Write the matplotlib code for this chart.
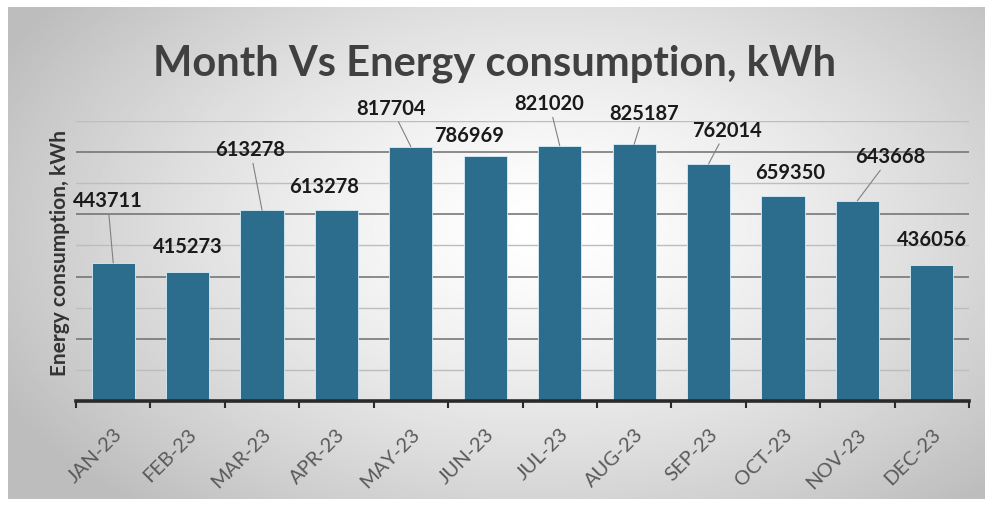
import numpy as np
import matplotlib
matplotlib.use("Agg")
import matplotlib.pyplot as plt
from matplotlib.ticker import FixedLocator, NullFormatter

# dati
months = ["JAN-23", "FEB-23", "MAR-23", "APR-23", "MAY-23", "JUN-23",
          "JUL-23", "AUG-23", "SEP-23", "OCT-23", "NOV-23", "DEC-23"]
energy = [443711, 415273, 613278, 613278, 817704, 786969,
          821020, 825187, 762014, 659350, 643668, 436056]

# posizione delle etichette (offset in punti dalla cima della barra) e linee guida
label_offsets = [(-4, 45), (0, 18.5), (-8.5, 44), (-9, 17.5), (-14, 28), (-11.5, 15),
                 (-7.5, 30.5), (7, 22.5), (13, 24.5), (5, 17), (24, 32), (0.5, 19)]
leader = [True, False, True, False, True, False, True, True, True, False, True, False]

W, H = 989, 506
fig = plt.figure(figsize=(W / 100, H / 100), dpi=100)
fig.patch.set_facecolor("white")

# sfondo con gradiente radiale
bg = fig.add_axes([8 / W, 6 / H, 977 / W, 492 / H])
yy, xx = np.mgrid[0:1:300j, 0:1:600j]
r = np.sqrt(((xx - 0.55) / 0.75) ** 2 + ((yy - 0.45) / 0.9) ** 2)
g = np.clip(1.0 - 0.33 * r ** 1.4, 0.74, 1.0)
bg.imshow(g, cmap="gray", vmin=0, vmax=1, aspect="auto", extent=(0, 1, 0, 1),
          interpolation="bilinear")
bg.axis("off")

ax = fig.add_axes([76 / W, 1 - 402 / H, 893 / W, 280 / H])
ax.set_facecolor("none")
x = np.arange(len(months))
bars = ax.bar(x, energy, width=0.58, color="#2c6d8d", edgecolor="#d8eef7",
              linewidth=0.6, zorder=3)

ax.set_xlim(-0.5, len(months) - 0.5)
ax.set_ylim(0, 900000)

# griglia: linee scure ogni 200k, chiare ogni 100k
for v in range(100000, 900001, 100000):
    if v % 200000 == 0:
        ax.axhline(v, color="#6e6e6e", lw=1.1, zorder=1)
    else:
        ax.axhline(v, color="#bdbdbd", lw=1.0, zorder=1)

for s in ["top", "right", "left"]:
    ax.spines[s].set_visible(False)
ax.spines["bottom"].set_color("#2a2a2a")
ax.spines["bottom"].set_linewidth(2.6)
ax.spines["bottom"].set_zorder(4)
ax.set_yticks([])

ax.xaxis.set_major_locator(FixedLocator(np.arange(-0.5, len(months), 1.0)))
ax.xaxis.set_major_formatter(NullFormatter())
ax.tick_params(axis="x", which="major", direction="out", length=5, width=1.5,
               color="#2a2a2a")
ax.set_xticks(x, minor=True)
ax.set_xticklabels(months, minor=True, rotation=45, ha="right", va="top",
                   rotation_mode="anchor", fontsize=14.5, color="#5a5a5a",
                   family="Lato")
ax.tick_params(axis="x", which="minor", length=0, pad=17)

for i, v in enumerate(energy):
    dx, dy = label_offsets[i]
    props = dict(arrowstyle="-", color="#808080", lw=0.8,
                 shrinkA=1, shrinkB=0) if leader[i] else None
    ax.annotate(str(v), xy=(i, v), xytext=(dx, dy), textcoords="offset points",
                ha="center", va="center", fontsize=14.5, fontweight="bold",
                family="Lato", color="#1a1a1a", arrowprops=props, zorder=5,
                annotation_clip=False)

ax.set_ylabel("Energy consumption, kWh", fontsize=15, fontweight="bold",
              family="Lato", color="#333333", va="center")
ax.yaxis.set_label_coords(-16 / 893, (402 - 253) / 280)

fig.text(495 / W, 1 - 64 / H, "Month Vs Energy consumption, kWh", ha="center",
         va="center", fontsize=30, fontweight="bold", family="Lato",
         color="#404040")

fig.savefig("out.png", dpi=100)
